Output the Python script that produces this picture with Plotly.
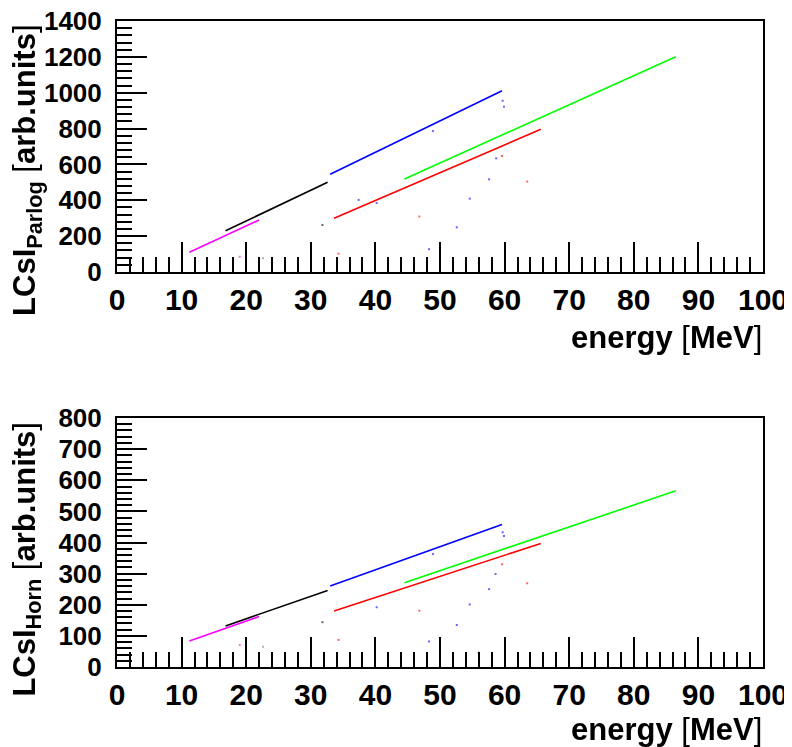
import plotly.graph_objects as go

# ---- data: line segments (start / end) ----
energy_magenta = [11.2, 22.0]
energy_black = [16.8, 32.6]
energy_blue = [33.0, 59.6]
energy_red = [33.6, 65.6]
energy_green = [44.5, 86.5]

parlog_magenta = [110, 290]
parlog_black = [230, 500]
parlog_blue = [545, 1011]
parlog_red = [300, 796]
parlog_green = [519, 1201]

horn_magenta = [83.5, 162]
horn_black = [132, 246]
horn_blue = [260, 458]
horn_red = [180, 397]
horn_green = [271, 566]

# ---- sparse outlier points ----
out_blue_energy = [59.7, 59.9, 48.9, 37.4, 40.2, 52.6, 54.6, 57.6, 58.7, 48.3, 56.0]
out_blue_parlog = [955, 922, 786, 402, 385, 249, 409, 517, 634, 127, 48]
out_blue_energy_h = [59.7, 59.9, 48.9, 40.2, 52.6, 54.6, 57.6, 58.6, 48.3, 56.0]
out_blue_horn = [433, 421, 363, 192, 135, 201, 250, 299, 82, 46]
out_red_energy = [46.8, 59.6, 63.5, 34.3]
out_red_parlog = [309, 647, 504, 102]
out_red_horn = [181, 330, 269, 87]
out_black_energy = [31.8]
out_black_parlog = [262]
out_black_horn = [144]
out_magenta_energy = [19.0]
out_magenta_parlog = [85]
out_magenta_horn = [71]
out_gray_energy = [22.6]
out_gray_parlog = [76]
out_gray_horn = [65]

colors = {"magenta": "#FF00FF", "black": "#000000", "blue": "#0000FF",
          "red": "#FF0000", "green": "#00FF00", "gray": "#808080"}

fig = go.Figure()

segments = [
    ("magenta", energy_magenta, parlog_magenta, horn_magenta),
    ("black", energy_black, parlog_black, horn_black),
    ("blue", energy_blue, parlog_blue, horn_blue),
    ("red", energy_red, parlog_red, horn_red),
    ("green", energy_green, parlog_green, horn_green),
]
for name, ex, py, hy in segments:
    fig.add_trace(go.Scatter(x=ex, y=py, mode="lines", line=dict(color=colors[name], width=1.6),
                             xaxis="x", yaxis="y", showlegend=False))
    fig.add_trace(go.Scatter(x=ex, y=hy, mode="lines", line=dict(color=colors[name], width=1.6),
                             xaxis="x2", yaxis="y2", showlegend=False))

outliers_top = [
    ("blue", out_blue_energy, out_blue_parlog),
    ("red", out_red_energy, out_red_parlog),
    ("black", out_black_energy, out_black_parlog),
    ("magenta", out_magenta_energy, out_magenta_parlog),
    ("gray", out_gray_energy, out_gray_parlog),
]
outliers_bot = [
    ("blue", out_blue_energy_h, out_blue_horn),
    ("red", out_red_energy, out_red_horn),
    ("black", out_black_energy, out_black_horn),
    ("magenta", out_magenta_energy, out_magenta_horn),
    ("gray", out_gray_energy, out_gray_horn),
]
for name, ex, ey in outliers_top:
    fig.add_trace(go.Scatter(x=ex, y=ey, mode="markers", opacity=0.6,
                             marker=dict(color=colors[name], size=2, symbol="square", line=dict(width=0)),
                             xaxis="x", yaxis="y", showlegend=False))
for name, ex, ey in outliers_bot:
    fig.add_trace(go.Scatter(x=ex, y=ey, mode="markers", opacity=0.6,
                             marker=dict(color=colors[name], size=2, symbol="square", line=dict(width=0)),
                             xaxis="x2", yaxis="y2", showlegend=False))

FONT = "Liberation Sans, Arial, sans-serif"

def xaxis_cfg(anchor):
    return dict(range=[0, 100], anchor=anchor, dtick=10, tick0=0, automargin=False,
                ticks="inside", ticklen=30, tickwidth=2, tickcolor="black",
                minor=dict(dtick=2, tick0=0, ticks="inside", ticklen=15, tickwidth=2, tickcolor="black"),
                showline=True, linecolor="black", linewidth=2, mirror=True,
                showgrid=False, zeroline=False, ticklabeloverflow="allow",
                tickfont=dict(family=FONT, size=30, color="black", weight="bold"))

def yaxis_cfg(domain, rng, dt, mdt, anchor):
    return dict(range=rng, domain=domain, anchor=anchor, dtick=dt, tick0=0, automargin=False,
                ticks="inside", ticklen=30, tickwidth=2, tickcolor="black",
                minor=dict(dtick=mdt, tick0=0, ticks="inside", ticklen=15, tickwidth=2, tickcolor="black"),
                showline=True, linecolor="black", linewidth=2, mirror=True,
                showgrid=False, zeroline=False, ticklabelstandoff=8, ticklabeloverflow="allow",
                tickfont=dict(family=FONT, size=26, color="black", weight="bold"))

# page body has an 8px margin, so the figure is offset by 8px
fig.update_layout(
    width=792, height=747,
    margin=dict(l=109, r=37, t=13, b=88, autoexpand=False),
    paper_bgcolor="white", plot_bgcolor="white",
    xaxis=xaxis_cfg("y"),
    xaxis2=xaxis_cfg("y2"),
    yaxis=yaxis_cfg([0.6115, 1.0], [0, 1400], 200, 40, "x"),
    yaxis2=yaxis_cfg([0.0, 0.3854], [0, 800], 100, 20, "x2"),
)

ann_font = dict(family=FONT, size=31, color="black", weight="normal")
yt_font = dict(family=FONT, size=31, color="black", weight="normal")
xtitle = "<b>energy</b> [<b>MeV</b>]"
fig.add_annotation(text=xtitle, xref="paper", yref="paper", x=1.0, y=0.5108,
                   xanchor="right", yanchor="middle", showarrow=False, font=ann_font, borderpad=0)
fig.add_annotation(text=xtitle, xref="paper", yref="paper", x=1.0, y=-0.0975,
                   xanchor="right", yanchor="middle", showarrow=False, font=ann_font, borderpad=0)
fig.add_annotation(text="<b>LCsI</b><sub><b>Parlog</b></sub> [<b>arb.units</b>]", xref="paper", yref="paper",
                   x=-0.139, y=0.995, xanchor="center", yanchor="top", textangle=-90,
                   showarrow=False, font=yt_font, borderpad=0)
fig.add_annotation(text="<b>LCsI</b><sub><b>Horn</b></sub> [<b>arb.units</b>]", xref="paper", yref="paper",
                   x=-0.139, y=0.381, xanchor="center", yanchor="top", textangle=-90,
                   showarrow=False, font=yt_font, borderpad=0)

fig.write_html("out.html")
